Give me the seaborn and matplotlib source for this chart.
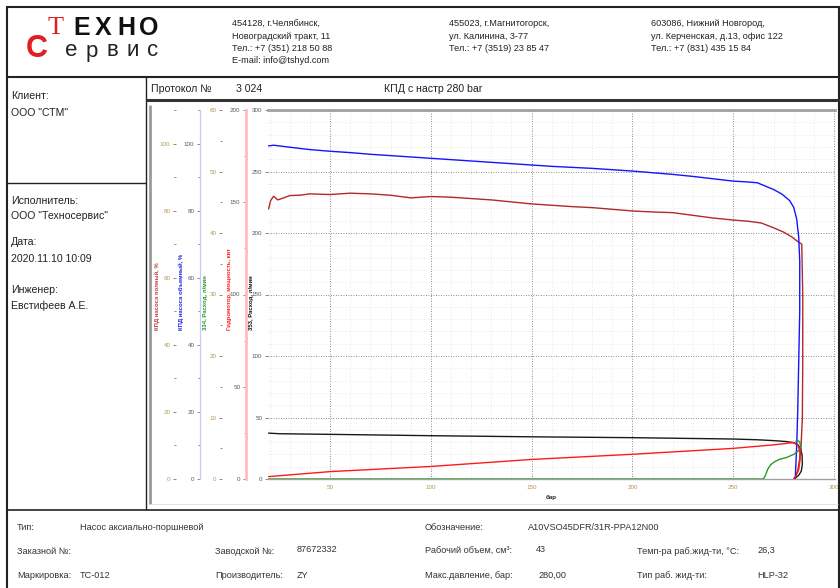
import matplotlib
matplotlib.use("Agg")
import matplotlib.pyplot as plt
from matplotlib.lines import Line2D
from matplotlib.transforms import Affine2D
from matplotlib.ticker import MultipleLocator, AutoMinorLocator
import seaborn as sns

W, H = 840, 588

# ---------------- data ----------------
# КПД насоса объемный, %  (blue)
p_vol = [19.5, 22, 30, 40, 50, 60, 70, 80, 90, 100, 110, 120, 130, 140, 150, 160,
         170, 180, 190, 200, 210, 220, 230, 240, 250, 256, 262, 266, 270, 274, 278,
         280, 281.5, 282.5, 283, 283, 282.5, 282, 281.5, 281, 280.8]
eff_vol = [99.3, 99.5, 98.9, 98.2, 97.7, 97.3, 96.8, 96.4, 96.0, 95.6, 95.2, 94.8,
           94.4, 94.0, 93.6, 93.2, 92.9, 92.6, 92.2, 91.8, 91.3, 90.8, 90.2, 89.5,
           88.8, 88.6, 88.3, 87.3, 86.3, 85.0, 83.0, 81.0, 77.5, 72.0, 65.0, 50.0,
           35.0, 20.0, 10.0, 3.0, 0.0]

# КПД насоса полный, %  (dark red)
p_total = [19.5, 20.5, 22, 24, 27, 30, 35, 40, 50, 60, 70, 80, 90, 100, 110, 120,
           130, 140, 150, 160, 170, 180, 190, 200, 210, 220, 230, 240, 250, 258, 264,
           270, 275, 279, 282, 284, 284.5, 284.5, 284.3, 283.5, 282, 280.5]
eff_total = [80.5, 83.0, 84.3, 83.2, 83.8, 84.5, 84.6, 85.0, 84.8, 85.2, 85.0, 84.6,
             83.8, 84.2, 84.0, 83.6, 83.2, 82.6, 82.0, 81.6, 81.2, 80.9, 80.4, 79.9,
             79.6, 79.4, 78.6, 77.8, 77.2, 76.8, 76.3, 74.9, 73.6, 72.2, 70.8, 70.0,
             55.0, 35.0, 18.0, 8.0, 2.5, 0.0]

# Гидромотор, мощность, квт  (red)
p_power = [19.5, 50, 100, 150, 200, 250, 270, 279.5, 282, 283, 283.2, 282.5, 281, 280]
power_kw = [1.3, 4.0, 6.8, 10.6, 13.4, 16.6, 18.5, 19.7, 18.5, 15.5, 10.5, 5.0, 1.5, 0.3]

# 353, Расход, л/мин  (black)
p_flow353 = [19.5, 25, 50, 100, 150, 200, 250, 262, 270, 276, 280, 282, 283.5, 284.2,
             284.3, 283.8, 282.5, 281, 280.3]
flow353 = [37.3, 36.8, 36.3, 35.2, 34.3, 33.6, 32.5, 31.9, 31.2, 30.5, 29.6, 28.0,
           24.5, 19.0, 12.0, 6.5, 3.0, 1.0, 0.0]

# 334, Расход, л/мин  (green)
p_flow334 = [19.5, 100, 200, 260, 265, 266, 267, 268.5, 270.5, 273, 276.5, 280,
             282.5, 283.5, 283, 282, 281]
flow334 = [0, 0, 0, 0, 0, 0.6, 1.5, 2.3, 2.8, 3.2, 3.5, 4.0, 4.6, 5.3, 6.0, 6.3, 6.1]

x_label = "бар"

# ---------------- figure ----------------
sns.set_theme(style="white")
plt.rcParams['font.family'] = ['Liberation Sans', 'DejaVu Sans']

fig = plt.figure(figsize=(W / 100, H / 100), dpi=100)
fig.patch.set_facecolor('white')
T = Affine2D().scale(1 / W, -1 / H).translate(0, 1) + fig.transFigure


def line(x0, y0, x1, y1, lw=1.0, color='#222'):
    fig.add_artist(Line2D([x0, x1], [y0, y1], transform=T, lw=lw, color=color,
                          solid_capstyle='butt'))


def txt(x, y, s, size=6.5, color='#222', **kw):
    kw.setdefault('va', 'center')
    kw.setdefault('ha', 'left')
    fig.text(x, y, s, transform=T, fontsize=size, color=color, **kw)


# frame
line(6, 7, 840, 7, lw=1.5)
line(6.5, 7, 6.5, 588, lw=1.5)
line(838.5, 7, 838.5, 588, lw=1.5)
line(6, 76.5, 840, 76.5, lw=1.5)
line(145.5, 76.5, 145.5, 510, lw=1.0)
line(6, 182.5, 145.5, 182.5, lw=1.0)
line(145.5, 100, 840, 100, lw=2.2, color='#333')
line(6, 510, 840, 510, lw=1.2)
line(150, 105, 150, 504, lw=2.0, color='#9a9a9a')
line(150, 504, 838, 504, lw=0.6, color='#dddddd')

# logo
txt(48, 28, "Т", size=19, color='#e02020', fontfamily='Liberation Serif')
for i, ch in enumerate("ЕХНО"):
    txt(73 + i * 22, 28, ch, size=18, color='#111', fontweight='bold')
txt(26, 49, "С", size=22, color='#e02020', fontweight='bold')
for i, ch in enumerate("ервис"):
    txt(65 + i * 20.5, 51, ch, size=16, color='#222')

# header addresses
col1 = ["454128, г.Челябинск,", "Новоградский тракт, 11", "Тел.: +7 (351) 218 50 88",
        "E-mail: info@tshyd.com"]
col2 = ["455023, г.Магнитогорск,", "ул. Калинина, 3-77", "Тел.: +7 (3519) 23 85 47"]
col3 = ["603086, Нижний Новгород,", "ул. Керченская, д.13, офис 122",
        "Тел.: +7 (831) 435 15 84"]
for x0, col in ((232, col1), (449, col2), (651, col3)):
    for i, s in enumerate(col):
        txt(x0, 24 + i * 12.2, s, size=6.6)

# left panel
for y, s in ((96, "Клиент:"), (113, "ООО \"СТМ\""), (201, "Исполнитель:"),
             (216, "ООО \"Техносервис\""), (242, "Дата:"), (259, "2020.11.10 10:09"),
             (290, "Инженер:"), (306, "Евстифеев А.Е.")):
    txt(11, y, s, size=7.6)

# title row
txt(151, 89.5, "Протокол №", size=7.6)
txt(236, 89.5, "3 024", size=7.6)
txt(384, 89.5, "КПД с настр 280 bar", size=7.6)

# footer
foot = [(17, 527, "Тип:"), (80, 527, "Насос аксиально-поршневой"),
        (425, 527, "Обозначение:"), (528, 527, "A10VSO45DFR/31R-PPA12N00"),
        (17, 551, "Заказной №:"), (215, 551, "Заводской №:"), (297, 550, "87672332"),
        (425, 551, "Рабочий объем, см³:"), (536, 550, "43"),
        (637, 551, "Темп-ра раб.жид-ти, °С:"), (757, 550, "26,3"),
        (17, 575, "Маркировка:"), (80, 575, "ТС-012"), (215, 575, "Производитель:"),
        (297, 575, "ZY"), (425, 575, "Макс.давление, бар:"), (538, 575, "280,00"),
        (637, 575, "Тип раб. жид-ти:"), (757, 575, "HLP-32")]
for x, y, s in foot:
    txt(x, y, s, size=6.6, color='#333')

# ---------------- chart ----------------
L, R, TOP, BOT = 268, 835, 110, 479
ax = fig.add_axes([L / W, 1 - BOT / H, (R - L) / W, (BOT - TOP) / H])
ax.set_facecolor('none')
ax1 = ax.twinx()
ax2 = ax.twinx()
ax3 = ax.twinx()
ax4 = ax.twinx()

tan = '#b8955a'
slate = '#55596a'
axes_spec = [
    # axis, spine x px, label x px, ylim, major, label, label color, tick color, spine color, spine lw
    (ax1, 176, 157, (0, 110), 20, "КПД насоса полный, %", '#b84040', tan, None, 0),
    (ax2, 200, 181, (0, 110), 20, "КПД насоса объемный, %", '#2020e0', slate, '#c8c8ff', 0.9),
    (ax3, 222, 205, (0, 60), 10, "334, Расход, л/мин", '#2a9a2a', tan, None, 0),
    (ax4, 246, 229, (0, 200), 50, "Гидромотор, мощность, квт", '#ff2020', slate, '#ffbcbc', 2.0),
    (ax, 268, 251, (0, 300), 50, "353, Расход, л/мин", '#111111', slate, None, 0),
]

sns.lineplot(x=p_flow353, y=flow353, ax=ax, sort=False, estimator=None,
             color='#1a1a1a', lw=1.0)
sns.lineplot(x=p_flow334, y=flow334, ax=ax3, sort=False, estimator=None,
             color='#2a9a2a', lw=1.0)
sns.lineplot(x=p_power, y=power_kw, ax=ax4, sort=False, estimator=None,
             color='#ff1a1a', lw=1.0)
sns.lineplot(x=p_total, y=eff_total, ax=ax1, sort=False, estimator=None,
             color='#b02a2a', lw=1.0)
sns.lineplot(x=p_vol, y=eff_vol, ax=ax2, sort=False, estimator=None,
             color='#1414ff', lw=1.0)

width_px = R - L
height_px = BOT - TOP
for a, sx, lx, ylim, major, label, lcol, tcol, scol, slw in axes_spec:
    a.set_ylim(*ylim)
    for s in a.spines.values():
        s.set_visible(False)
    if a is not ax:
        a.yaxis.set_ticks_position('left')
        a.yaxis.set_label_position('left')
        a.spines['left'].set_position(('axes', (sx - L) / width_px))
    if scol is not None:
        a.spines['left'].set_visible(True)
        a.spines['left'].set_color(scol)
        a.spines['left'].set_linewidth(slw)
    a.yaxis.set_major_locator(MultipleLocator(major))
    a.tick_params(axis='y', which='major', left=True, length=2.5, width=0.6, pad=1.5,
                  labelsize=4.5, labelcolor=tcol, color='#777777')
    if a is not ax:
        a.yaxis.set_minor_locator(AutoMinorLocator(2))
        a.tick_params(axis='y', which='minor', left=True, length=1.5, width=0.6,
                      color='#777777')
    lab = a.set_ylabel(label, fontsize=4.3, color=lcol, fontweight='bold')
    a.yaxis.set_label_coords((lx - L) / width_px, (BOT - 330) / height_px)
    lab.set_rotation_mode('anchor')
    lab.set_horizontalalignment('left')
    lab.set_verticalalignment('center')

# main x axis and grid
ax.set_xlim(19.2, 300.5)
ax.xaxis.set_major_locator(MultipleLocator(50))
ax.xaxis.set_minor_locator(MultipleLocator(10))
ax.yaxis.set_minor_locator(MultipleLocator(10))
ax.tick_params(axis='x', which='both', bottom=True, length=0, pad=4, labelsize=4.5,
               labelcolor=tan)
ax.tick_params(axis='y', which='minor', left=False, length=0)
ax.set_xlabel(x_label, fontsize=4.5, fontweight='bold', color='#223', labelpad=4)
ax.grid(True, which='major', color='#666666', ls=(0, (1, 2)), lw=0.6)
ax.grid(True, which='minor', color='#d2d2d2', ls=(0, (1, 3)), lw=0.5)
ax.set_axisbelow(True)
ax.spines['top'].set_visible(True)
ax.spines['top'].set_color('#a0a0a0')
ax.spines['top'].set_linewidth(2.0)
ax.spines['bottom'].set_visible(True)
ax.spines['bottom'].set_color('#a0a0a0')
ax.spines['bottom'].set_linewidth(1.0)

fig.savefig("out.png", dpi=100, facecolor='white')
